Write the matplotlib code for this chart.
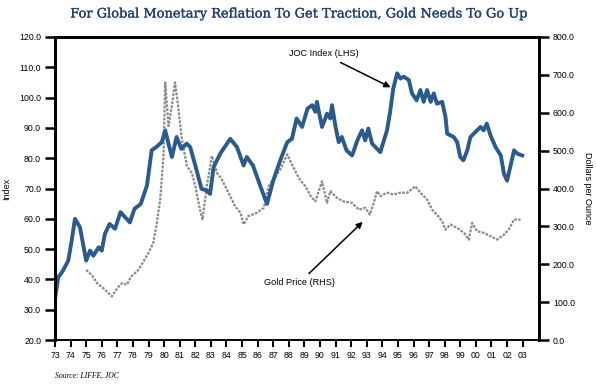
import matplotlib
matplotlib.use("Agg")
import matplotlib.pyplot as plt
import matplotlib.patheffects as pe

# ---------------- data ----------------
joc_year = [1973.0, 1973.2, 1973.5, 1973.85, 1974.07, 1974.28, 1974.6, 1975.0, 1975.25, 1975.46,
            1975.8, 1976.0, 1976.2, 1976.5, 1976.85, 1977.2, 1977.5, 1977.8, 1978.1, 1978.5,
            1978.9, 1979.2, 1979.5, 1979.85, 1980.07, 1980.28, 1980.5, 1980.8, 1981.1, 1981.45,
            1981.67, 1982.0, 1982.4, 1982.75, 1982.95, 1983.17, 1983.6, 1984.24, 1984.67, 1985.1,
            1985.3, 1985.7, 1986.2, 1986.6, 1987.0, 1987.45, 1987.9, 1988.2, 1988.5, 1988.85,
            1989.2, 1989.5, 1989.7, 1989.8, 1990.13, 1990.45, 1990.66, 1990.77, 1991.0, 1991.2,
            1991.4, 1991.7, 1992.06, 1992.4, 1992.7, 1992.9, 1993.1, 1993.34, 1993.66, 1993.87,
            1994.1, 1994.3, 1994.5, 1994.7, 1994.95, 1995.16, 1995.37, 1995.7, 1995.9, 1996.2,
            1996.44, 1996.65, 1996.87, 1997.1, 1997.3, 1997.5, 1997.84, 1998.05, 1998.16, 1998.58,
            1998.8, 1999.0, 1999.2, 1999.45, 1999.65, 2000.08, 2000.3, 2000.5, 2000.7, 2000.94,
            2001.26, 2001.6, 2001.8, 2002.0, 2002.2, 2002.45, 2002.66, 2002.97]
joc_index = [33.5, 40.6, 42.8, 46.2, 52.8, 60.0, 57.2, 46.2, 49.5, 47.8,
             50.6, 49.5, 55.0, 58.3, 56.7, 62.2, 60.5, 58.8, 63.3, 64.9,
             71.0, 82.6, 83.7, 85.3, 89.2, 84.8, 80.4, 87.0, 83.1, 84.8,
             83.7, 77.6, 69.9, 69.3, 68.2, 77.0, 81.5, 86.4, 83.7, 77.6,
             80.4, 77.6, 70.4, 64.9, 72.6, 79.3, 85.3, 86.4, 93.1, 90.3,
             96.4, 97.5, 95.3, 98.6, 90.3, 94.7, 93.1, 97.5, 90.3, 85.3,
             87.0, 82.6, 80.9, 85.9, 89.2, 85.9, 89.8, 84.8, 83.1, 82.0,
             85.9, 89.2, 95.3, 103.0, 108.0, 106.3, 106.9, 105.8, 101.4, 99.1,
             102.5, 98.6, 102.5, 98.6, 101.4, 98.0, 98.6, 93.6, 88.1, 87.0,
             85.3, 80.4, 79.3, 82.6, 87.0, 89.2, 90.3, 89.2, 91.4, 87.5,
             83.7, 80.9, 74.9, 72.6, 77.0, 82.6, 81.5, 80.9]

gold_year = [1975.0, 1975.35, 1975.7, 1976.1, 1976.65, 1977.0, 1977.3, 1977.6, 1977.9, 1978.35,
             1978.67, 1979.0, 1979.3, 1979.5, 1979.75, 1979.96, 1980.07, 1980.28, 1980.5, 1980.7,
             1980.9, 1981.14, 1981.46, 1981.78, 1982.0, 1982.3, 1982.46, 1982.74, 1983.06, 1983.4,
             1983.7, 1984.13, 1984.56, 1984.9, 1985.1, 1985.4, 1985.95, 1986.4, 1986.7, 1987.0,
             1987.45, 1987.9, 1988.3, 1988.7, 1989.06, 1989.4, 1989.7, 1990.13, 1990.45, 1990.66,
             1991.1, 1991.5, 1992.06, 1992.5, 1992.9, 1993.2, 1993.45, 1993.66, 1993.87, 1994.3,
             1994.7, 1995.16, 1995.6, 1996.0, 1996.1, 1996.44, 1996.87, 1997.2, 1997.5, 1997.84,
             1998.05, 1998.37, 1998.8, 1999.23, 1999.55, 1999.76, 2000.08, 2000.5, 2000.94, 2001.37,
             2001.8, 2002.1, 2002.45, 2002.87]
gold_price = [185, 172, 150, 137, 115, 137, 150, 146, 168, 185,
              207, 230, 256, 300, 371, 486, 680, 565, 618, 680,
              618, 530, 459, 441, 406, 344, 318, 406, 486, 441,
              424, 389, 353, 336, 305, 327, 336, 349, 406, 424,
              450, 490, 455, 424, 406, 380, 366, 419, 362, 393,
              375, 366, 362, 344, 349, 331, 362, 393, 380, 389,
              384, 389, 389, 402, 406, 389, 371, 344, 331, 313,
              291, 305, 296, 283, 265, 309, 287, 283, 274, 265,
              278, 291, 318, 318]

x_tick_years = list(range(1973, 2004))
x_tick_labels = [f"{y % 100:02d}" for y in x_tick_years]
left_ticks = [20, 30, 40, 50, 60, 70, 80, 90, 100, 110, 120]
right_ticks = [0, 100, 200, 300, 400, 500, 600, 700, 800]

title = "For Global Monetary Reflation To Get Traction, Gold Needs To Go Up"
source = "Source: LIFFE, JOC"

# ---------------- figure ----------------
plt.rcParams['font.family'] = ['Liberation Sans', 'DejaVu Sans']
fig = plt.figure(figsize=(5.96, 3.88), dpi=100)
ax = fig.add_axes([55/596, 1-340/388, (539-55)/596, (340-37)/388])
ax2 = ax.twinx()

ax2.plot(gold_year, gold_price, color='#8a8a8a', lw=1.6, linestyle=(0, (1.2, 0.6)))
ax.plot(joc_year, joc_index, color='#2b5a8c', lw=2.8, solid_joinstyle='round')

ax.set_zorder(ax2.get_zorder() + 1)
ax.patch.set_visible(False)

ax.set_xlim(1973.0, 2004.05)
ax.set_ylim(20, 120)
ax2.set_ylim(0, 800)

ax.set_xticks(x_tick_years)
ax.set_xticklabels(x_tick_labels)
ax.set_yticks(left_ticks)
ax.set_yticklabels([f"{v:.1f}" for v in left_ticks])
ax2.set_yticks(right_ticks)
ax2.set_yticklabels([f"{v:.1f}" for v in right_ticks])

for a in (ax, ax2):
    for s in ('left', 'right', 'top'):
        a.spines[s].set_linewidth(2.0)
    a.spines['bottom'].set_linewidth(1.2)

ax.tick_params(axis='y', direction='out', length=7, width=1.8, labelsize=6.3, pad=3)
ax2.tick_params(axis='y', direction='out', length=7, width=1.8, labelsize=6.3, pad=3)
ax.tick_params(axis='x', direction='out', length=5, width=1.5, labelsize=6.3, pad=3)

ax.set_ylabel("Index", fontsize=6.5, labelpad=6)
ax2.set_ylabel("Dollars per Ounce", fontsize=6.5, rotation=-90, labelpad=12)

title_color = '#1f3f73'
fig.text(0.5, 1-14/388, title, ha='center', va='center', fontsize=9.35,
         family=['DejaVu Serif'], color=title_color,
         path_effects=[pe.withStroke(linewidth=0.2, foreground=title_color)])
fig.text(55/596, 1-376/388, source, ha='left', va='center', fontsize=5.5,
         family=['Liberation Serif', 'DejaVu Serif'], style='italic')

arrow = dict(arrowstyle='-|>', color='black', lw=1.1, mutation_scale=9, shrinkA=2, shrinkB=0)
ax.annotate("JOC Index (LHS)", xy=(1994.53, 103.4), xytext=(1992.45, 114.4),
            ha='right', va='center', fontsize=6.6, arrowprops=arrow)
ax2.annotate("Gold Price (RHS)", xy=(1992.74, 312), xytext=(1990.95, 151),
             ha='right', va='center', fontsize=6.6, arrowprops=arrow)

fig.savefig("out.png", dpi=100, facecolor='white')
